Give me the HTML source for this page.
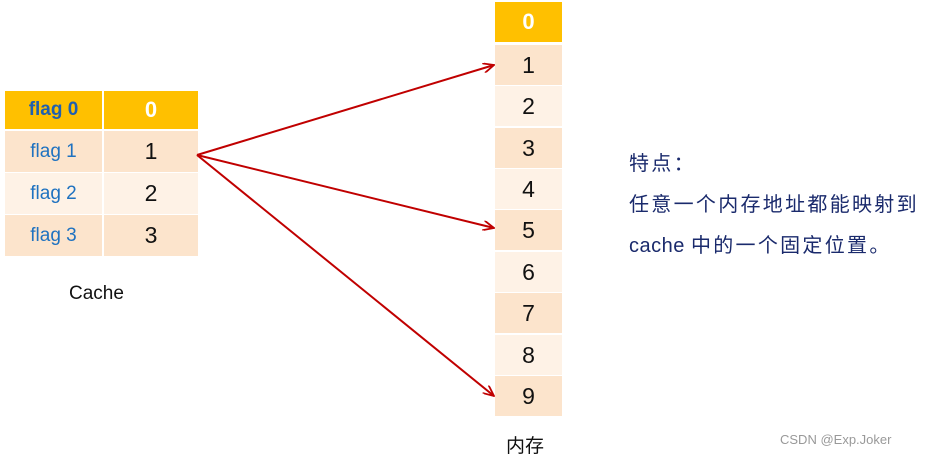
<!DOCTYPE html>
<html><head><meta charset="utf-8"><style>
body{margin:0;width:930px;height:459px;background:#fff;position:relative;overflow:hidden;font-family:"Liberation Sans","Noto Sans CJK SC",sans-serif}
.c{position:absolute;display:flex;align-items:center;justify-content:center;box-sizing:border-box}
.h{background:#FFC000;color:#fff;font-weight:bold;font-size:22px}
.o{background:#FCE4CC}
.e{background:#FEF2E6}
.f{color:#1F72C0;font-size:19px}
.n{color:#111;font-size:23px}
.t{position:absolute;color:#1a2a6c;font-size:20px;letter-spacing:2.3px;white-space:nowrap}
</style></head><body>
<div class="c h" style="left:5px;top:91px;width:97px;height:38px;color:#1F5FB0;font-size:19px">flag 0</div>
<div class="c h" style="left:104px;top:91px;width:94px;height:38px">0</div>
<div class="c o f" style="left:5px;top:131px;width:97px;height:41px">flag 1</div>
<div class="c o n" style="left:104px;top:131px;width:94px;height:41px">1</div>
<div class="c e f" style="left:5px;top:173px;width:97px;height:41px">flag 2</div>
<div class="c e n" style="left:104px;top:173px;width:94px;height:41px">2</div>
<div class="c o f" style="left:5px;top:215px;width:97px;height:41px">flag 3</div>
<div class="c o n" style="left:104px;top:215px;width:94px;height:41px">3</div>
<div style="position:absolute;left:69px;top:283px;font-size:19px;color:#111">Cache</div>

<div class="c h" style="left:495px;top:2px;width:67px;height:40px">0</div>
<div class="c o n" style="left:495px;top:45px;width:67px;height:40px">1</div>
<div class="c e n" style="left:495px;top:86px;width:67px;height:40px">2</div>
<div class="c o n" style="left:495px;top:128px;width:67px;height:40px">3</div>
<div class="c e n" style="left:495px;top:169px;width:67px;height:40px">4</div>
<div class="c o n" style="left:495px;top:210px;width:67px;height:40px">5</div>
<div class="c e n" style="left:495px;top:252px;width:67px;height:40px">6</div>
<div class="c o n" style="left:495px;top:293px;width:67px;height:40px">7</div>
<div class="c e n" style="left:495px;top:335px;width:67px;height:40px">8</div>
<div class="c o n" style="left:495px;top:376px;width:67px;height:40px">9</div>
<div style="position:absolute;left:506px;top:431px;font-size:19px;color:#111">内存</div>

<svg style="position:absolute;left:0;top:0" width="930" height="459">
<defs><marker id="a" markerWidth="12" markerHeight="10" refX="11" refY="5" orient="auto" markerUnits="userSpaceOnUse"><path d="M0,0 L11,5 L0,10" fill="none" stroke="#C00000" stroke-width="1.8"/></marker></defs>
<g stroke="#C00000" stroke-width="2" fill="none">
<line x1="197" y1="155" x2="494" y2="65" marker-end="url(#a)"/>
<line x1="197" y1="155" x2="494" y2="228" marker-end="url(#a)"/>
<line x1="197" y1="155" x2="494" y2="396" marker-end="url(#a)"/>
</g></svg>

<div class="t" style="left:629px;top:147px">特点：</div>
<div class="t" style="left:629px;top:188px">任意一个内存地址都能映射到</div>
<div class="t" style="left:629px;top:229px"><span style="letter-spacing:0.5px">cache </span>中的一个固定位置。</div>
<div style="position:absolute;left:780px;top:432px;font-size:13px;color:#999">CSDN @Exp.Joker</div>
</body></html>
